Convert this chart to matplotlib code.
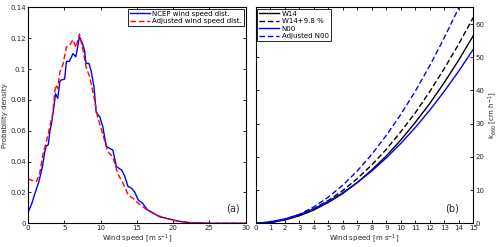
import matplotlib
matplotlib.use("Agg")
import matplotlib.pyplot as plt

# ---- Panel (a): wind speed distributions ----
wind_ncep = [0, 0.5, 1.0, 1.5, 2.0, 2.3, 2.5, 2.8, 3.0, 3.25, 3.5, 3.8, 4.1, 4.4, 4.6,
             5.05, 5.3, 5.7, 6.2, 6.6, 7.1, 7.5, 7.8, 8.0, 8.4, 8.7, 9.1, 9.4, 9.9,
             10.3, 10.8, 11.25, 11.7, 12.2, 12.9, 13.3, 13.8, 14.2, 14.7, 15.2, 15.8,
             16.5, 17.2, 18.1, 19.1, 20.0, 21.1, 22.3, 23.7, 25, 30]
pdf_ncep = [0.007, 0.0125, 0.020, 0.027, 0.037, 0.046, 0.050, 0.051, 0.059, 0.065,
            0.073, 0.084, 0.081, 0.092, 0.093, 0.0935, 0.105, 0.105, 0.110, 0.108,
            0.121, 0.1167, 0.112, 0.1037, 0.1037, 0.099, 0.0886, 0.072, 0.069, 0.063,
            0.050, 0.0486, 0.0475, 0.0367, 0.0346, 0.031, 0.0238, 0.023, 0.0205,
            0.0151, 0.013, 0.0086, 0.0069, 0.0043, 0.0032, 0.0022, 0.0011, 0.0004,
            0.0002, 0.0, 0.0]

wind_adj = [0, 0.46, 1.15, 1.6, 2.07, 2.5, 3.0, 3.4, 3.8, 4.1, 4.4, 4.8, 5.3, 5.7,
            6.2, 6.6, 7.1, 7.6, 8.0, 8.5, 9.1, 9.6, 10.3, 11.0, 11.7, 12.4, 13.1,
            13.8, 14.5, 15.2, 15.8, 16.8, 17.7, 18.6, 19.5, 20.4, 21.6, 22.7, 24.1,
            25.5, 30]
pdf_adj = [0.0287, 0.028, 0.027, 0.032, 0.045, 0.052, 0.0626, 0.071, 0.0897, 0.0875,
           0.098, 0.1026, 0.1145, 0.115, 0.119, 0.114, 0.1227, 0.112, 0.1015, 0.095,
           0.082, 0.069, 0.058, 0.0464, 0.043, 0.032, 0.026, 0.0184, 0.0162, 0.013,
           0.0108, 0.0076, 0.0054, 0.0039, 0.0026, 0.0015, 0.0009, 0.0004, 0.0002,
           0.0, 0.0]

# ---- Panel (b): gas transfer velocity ----
wind_k = list(range(16))
k_w14 = [0, 0.25, 1.0, 2.26, 4.0, 6.3, 9.0, 12.3, 16.1, 20.3, 25.1, 30.4, 36.1, 42.4, 49.2, 56.5]
k_w14p = [0, 0.28, 1.1, 2.48, 4.4, 6.9, 9.9, 13.5, 17.6, 22.3, 27.6, 33.3, 39.7, 46.6, 54.0, 62.0]
k_n00 = [0, 0.45, 1.34, 2.66, 4.42, 6.61, 9.23, 12.29, 15.78, 19.71, 24.07, 28.86, 34.09, 39.76, 45.85, 52.39]
k_n00adj = [0, 0.22, 1.12, 2.7, 4.96, 7.9, 11.5, 15.8, 20.8, 26.5, 32.8, 39.8, 47.5, 55.9, 64.9, 74.7]

fs = 5
tc = "#262626"
fig = plt.figure(figsize=(5.0, 2.47), dpi=100)
ax1 = fig.add_axes([0.056, 0.096, 0.435, 0.874])
ax2 = fig.add_axes([0.512, 0.096, 0.4346, 0.874])

ax1.plot(wind_ncep, pdf_ncep, color="#0000ff", lw=1.0, label="NCEP wind speed dist.")
ax1.plot(wind_adj, pdf_adj, color="#ff0000", lw=1.0, ls=(0, (4, 2)), label="Adjusted wind speed dist.")
ax1.set_xlim(0, 30)
ax1.set_ylim(0, 0.14)
ax1.set_xticks(range(0, 31, 5))
ax1.set_yticks([0, 0.02, 0.04, 0.06, 0.08, 0.1, 0.12, 0.14])
ax1.set_yticklabels(["0", "0.02", "0.04", "0.06", "0.08", "0.1", "0.12", "0.14"])
ax1.set_xlabel("Wind speed [m s$^{-1}$]", fontsize=fs, labelpad=0.5, color=tc)
ax1.set_ylabel("Probability density", fontsize=fs, labelpad=1.5, color=tc)
ax1.text(0.975, 0.045, "(a)", transform=ax1.transAxes, ha="right", va="bottom", fontsize=7, color=tc)
ax1.legend(loc="upper right", fontsize=fs, frameon=True, fancybox=False, edgecolor="black",
           borderpad=0.3, labelspacing=0.2, handlelength=2.8, handletextpad=0.4,
           borderaxespad=0.2, framealpha=1).get_frame().set_linewidth(0.6)

ax2.plot(wind_k, k_w14, color="black", lw=1.0, label="W14")
ax2.plot(wind_k, k_w14p, color="black", lw=1.0, ls=(0, (4, 2)), label="W14+9.8 %")
ax2.plot(wind_k, k_n00, color="#0000ff", lw=1.0, label="N00")
ax2.plot(wind_k, k_n00adj, color="#0000ff", lw=1.0, ls=(0, (4, 2)), label="Adjusted N00")
ax2.set_xlim(0, 15)
ax2.set_ylim(0, 65)
ax2.set_xticks(range(0, 16))
ax2.set_yticks(range(0, 61, 10))
ax2.yaxis.tick_right()
ax2.yaxis.set_label_position("right")
ax2.set_xlabel("Wind speed [m s$^{-1}$]", fontsize=fs, labelpad=0.5, color=tc)
ax2.set_ylabel("k$_{660}$ [cm h$^{-1}$]", fontsize=fs, labelpad=1.5, color=tc)
ax2.text(0.935, 0.045, "(b)", transform=ax2.transAxes, ha="right", va="bottom", fontsize=7, color=tc)
ax2.legend(loc="upper left", fontsize=fs, frameon=True, fancybox=False, edgecolor="black",
           borderpad=0.3, labelspacing=0.2, handlelength=2.8, handletextpad=0.4,
           borderaxespad=0.2, framealpha=1).get_frame().set_linewidth(0.6)

for ax in (ax1, ax2):
    ax.tick_params(direction="in", length=2.5, width=0.6, labelsize=fs, pad=1.5,
                   top=True, bottom=True, left=True, right=True, labelcolor=tc)
    for s in ax.spines.values():
        s.set_linewidth(0.8)
ax2.tick_params(axis="y", pad=1.5)

fig.savefig("out.png", dpi=100)
